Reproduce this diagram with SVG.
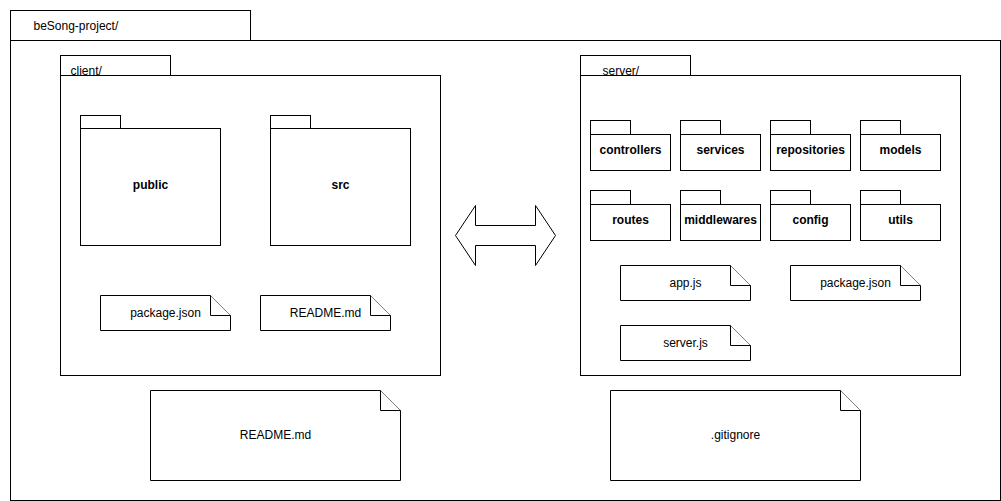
<svg xmlns="http://www.w3.org/2000/svg" width="1001" height="501" viewBox="0 0 1001 501">
<style>
.s{fill:#fff;stroke:#000;stroke-width:1}
.t{font-family:"Liberation Sans",Arial,sans-serif;font-size:12px;fill:#000}
.b{font-weight:bold;text-anchor:middle}
.c{text-anchor:middle}
</style>
<rect width="1001" height="501" fill="#fff"/>
<g transform="translate(0.5,0.5)">
<g id="project">
<rect class="s" x="10" y="10" width="240" height="30"/>
<rect class="s" x="10" y="40" width="990" height="460"/>
<text class="t" x="33" y="29">beSong-project/</text>
</g>
<g id="client">
<rect class="s" x="60" y="55" width="110" height="20"/>
<rect class="s" x="60" y="75" width="380" height="300"/>
<text class="t" x="70" y="74">client/</text>
</g>
<g id="public">
<rect class="s" x="80" y="115" width="40" height="13"/>
<rect class="s" x="80" y="128" width="140" height="117"/>
<text class="t b" x="150" y="188">public</text>
</g>
<g id="src">
<rect class="s" x="270" y="115" width="40" height="13"/>
<rect class="s" x="270" y="128" width="140" height="117"/>
<text class="t b" x="340" y="188">src</text>
</g>
<g id="client-package">
<path class="s" d="M100,295H210L230,315V330H100Z"/>
<path class="s" fill="none" d="M210,295V315H230"/>
<text class="t c" x="165" y="316">package.json</text>
</g>
<g id="client-readme">
<path class="s" d="M260,295H370L390,315V330H260Z"/>
<path class="s" fill="none" d="M370,295V315H390"/>
<text class="t c" x="325" y="316">README.md</text>
</g>
<g id="server">
<rect class="s" x="580" y="55" width="110" height="20"/>
<rect class="s" x="580" y="75" width="380" height="300"/>
<text class="t" x="602" y="74">server/</text>
</g>
<g id="controllers">
<rect class="s" x="590" y="120" width="40" height="14"/>
<rect class="s" x="590" y="134" width="80" height="36"/>
<text class="t b" x="630" y="153">controllers</text>
</g>
<g id="services">
<rect class="s" x="680" y="120" width="40" height="14"/>
<rect class="s" x="680" y="134" width="80" height="36"/>
<text class="t b" x="720" y="153">services</text>
</g>
<g id="repositories">
<rect class="s" x="770" y="120" width="40" height="14"/>
<rect class="s" x="770" y="134" width="80" height="36"/>
<text class="t b" x="810" y="153">repositories</text>
</g>
<g id="models">
<rect class="s" x="860" y="120" width="40" height="14"/>
<rect class="s" x="860" y="134" width="80" height="36"/>
<text class="t b" x="900" y="153">models</text>
</g>
<g id="routes">
<rect class="s" x="590" y="190" width="40" height="14"/>
<rect class="s" x="590" y="204" width="80" height="36"/>
<text class="t b" x="630" y="223">routes</text>
</g>
<g id="middlewares">
<rect class="s" x="680" y="190" width="40" height="14"/>
<rect class="s" x="680" y="204" width="80" height="36"/>
<text class="t b" x="720" y="223">middlewares</text>
</g>
<g id="config">
<rect class="s" x="770" y="190" width="40" height="14"/>
<rect class="s" x="770" y="204" width="80" height="36"/>
<text class="t b" x="810" y="223">config</text>
</g>
<g id="utils">
<rect class="s" x="860" y="190" width="40" height="14"/>
<rect class="s" x="860" y="204" width="80" height="36"/>
<text class="t b" x="900" y="223">utils</text>
</g>
<g id="app-js">
<path class="s" d="M620,265H730L750,285V300H620Z"/>
<path class="s" fill="none" d="M730,265V285H750"/>
<text class="t c" x="685" y="286">app.js</text>
</g>
<g id="server-package">
<path class="s" d="M790,265H900L920,285V300H790Z"/>
<path class="s" fill="none" d="M900,265V285H920"/>
<text class="t c" x="855" y="286">package.json</text>
</g>
<g id="server-js">
<path class="s" d="M620,325H730L750,345V360H620Z"/>
<path class="s" fill="none" d="M730,325V345H750"/>
<text class="t c" x="685" y="346">server.js</text>
</g>
<g id="readme">
<path class="s" d="M150,390H380L400,410V480H150Z"/>
<path class="s" fill="none" d="M380,390V410H400"/>
<text class="t c" x="275" y="438">README.md</text>
</g>
<g id="gitignore">
<path class="s" d="M610,390H840L860,410V480H610Z"/>
<path class="s" fill="none" d="M840,390V410H860"/>
<text class="t c" x="735" y="438">.gitignore</text>
</g>
<g id="connectors">
<path class="s" d="M455,235L475,205V225H535V205L555,235L535,265V245H475V265Z"/>
</g>
</g>
</svg>
